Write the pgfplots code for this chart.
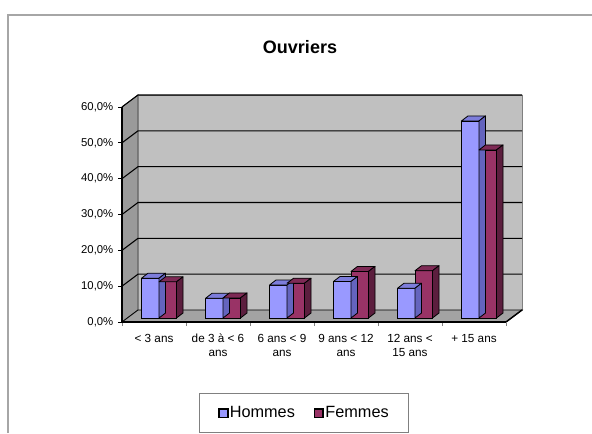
\documentclass[border=0pt]{standalone}
\usepackage{pgfplots}
\pgfplotsset{compat=1.18}
\usepackage{pgfplotstable}
\usepackage{fontspec}
\setmainfont{Liberation Sans}

\definecolor{hfront}{HTML}{9999FF}
\definecolor{htop}{HTML}{7D7DDB}
\definecolor{hside}{HTML}{6464BE}
\definecolor{ffront}{HTML}{993366}
\definecolor{ftop}{HTML}{7E2A55}
\definecolor{fside}{HTML}{5C1E3E}
\definecolor{backwall}{HTML}{C0C0C0}
\definecolor{sidewall}{HTML}{9A9A9A}
\definecolor{floorcol}{HTML}{A3A3A3}
\definecolor{framecol}{HTML}{A6A6A6}

% Share of each seniority band, in percent
\pgfplotstableread{
x hommes femmes
0 11.1 10.1
1 5.5  5.6
2 9.2  9.7
3 10.2 13.0
4 8.3  13.2
5 55.0 46.9
}\ouvriers

% Top and right faces of a 3D bar, drawn at the centre of each bar top.
% #1 = top colour, #2 = side colour
\pgfplotsset{
  bar faces/.style 2 args={
    scatter, only marks, mark=*, mark size=0pt, forget plot,
    visualization depends on={rawy \as \barval},
    scatter/@pre marker code/.code={%
      \pgfmathsetlengthmacro{\barh}{\barval*2.6875}%
      \path[fill=#1, draw=black, line width=0.6pt, line join=round]
        (-6.5625pt,0pt) -- ++(4.875pt,3.75pt) -- ++(13.125pt,0pt)
        -- (6.5625pt,0pt) -- cycle;
      \path[fill=#2, draw=black, line width=0.6pt, line join=round]
        (6.5625pt,0pt) -- ++(4.875pt,3.75pt) -- ++(0pt,-\barh)
        -- ++(-4.875pt,-3.75pt) -- cycle;
    },
    scatter/@post marker code/.code={},
  },
}

\begin{document}
\begin{tikzpicture}
\useasboundingbox (0,0) rectangle (444pt,324.75pt);

% chart frame
\draw[framecol, line width=0.8pt] (6pt,0pt) -- (6pt,313.5pt) -- (444pt,313.5pt);

% title
\node[font=\bfseries\fontsize{13.5}{16}\selectfont] at (225pt,289.5pt) {Ouvriers};

% walls, floor, gridlines and axes (front plane)
\begin{axis}[
  at={(91.5pt,83.25pt)}, anchor=south west,
  x=48pt, y=2.6875pt,
  xmin=-0.5, xmax=5.5, ymin=0, ymax=60,
  clip=false, axis on top,
  axis x line*=bottom, axis y line*=left,
  x axis line style={-, line width=1.1pt, black},
  y axis line style={-, line width=0.8pt, black},
  tick align=outside, major tick length=3pt,
  ytick={0,10,...,60},
  yticklabel={\pgfmathprintnumber[fixed,fixed zerofill,precision=1,use comma]{\tick}\%},
  ytick style={black, line width=0.6pt},
  xtick={-0.5,0.5,...,5.5}, xticklabels={},
  xtick style={gray, line width=0.6pt},
  extra x ticks={0,...,5},
  extra x tick labels={{< 3 ans},{de 3 à < 6\\ans},{6 ans < 9\\ans},{9 ans < 12\\ans},{12 ans <\\15 ans},{+ 15 ans}},
  extra x tick style={major tick length=0pt,
    xticklabel style={align=center, yshift=-5.5pt, font=\fontsize{8.8}{10.5}\selectfont}},
  tick label style={font=\fontsize{8.5}{10.5}\selectfont},
  /pgf/number format/assume math mode=true,
]
  % left wall
  \fill[sidewall, draw=black!80, line width=0.6pt]
    (axis cs:-0.5,0) -- (axis cs:-0.5,60) -- ([shift={(12pt,9pt)}]axis cs:-0.5,60)
    -- ([shift={(12pt,9pt)}]axis cs:-0.5,0) -- cycle;
  % back wall
  \fill[backwall, draw=gray, line width=0.6pt]
    ([shift={(12pt,9pt)}]axis cs:-0.5,0) rectangle ([shift={(12pt,9pt)}]axis cs:5.5,60);
  % floor
  \fill[floorcol, draw=black, line width=0.6pt]
    (axis cs:-0.5,0) -- (axis cs:5.5,0) -- ([shift={(12pt,9pt)}]axis cs:5.5,0)
    -- ([shift={(12pt,9pt)}]axis cs:-0.5,0) -- cycle;
  \draw[black, line width=1.1pt] (axis cs:5.5,0) -- ([shift={(12pt,9pt)}]axis cs:5.5,0);
  % gridlines on the left and back walls
  \pgfplotsinvokeforeach{10,20,30,40,50,60}{
    \draw[black, line width=0.8pt] (axis cs:-0.5,#1) -- ([shift={(12pt,9pt)}]axis cs:-0.5,#1)
      -- ([shift={(12pt,9pt)}]axis cs:5.5,#1);
  }
\end{axis}

% bars, standing a little behind the front plane
\begin{axis}[
  at={(95.25pt,86.25pt)}, anchor=south west,
  x=48pt, y=2.6875pt,
  xmin=-0.5, xmax=5.5, ymin=0, ymax=60,
  hide axis, clip=false,
  legend columns=2,
  legend style={at={(axis description cs:0.461,-0.442)}, anchor=center,
    draw=gray, line width=0.5pt, inner xsep=14pt, inner ysep=8.5pt,
    nodes={inner xsep=1pt, inner ysep=1pt},
    font=\fontsize{12.2}{14}\selectfont,
    /tikz/every even column/.append style={column sep=13pt}},
]
  \addplot[ybar, bar width=13.125pt, bar shift=-6.5625pt, fill=hfront, draw=black, line width=0.6pt,
    legend image code/.code={\draw[fill=hfront, draw=black, line width=1.3pt] (0pt,-3.3pt) rectangle (6.6pt,3.3pt);}]
    table[x=x, y=hommes] {\ouvriers};
  \addlegendentry{Hommes}
  \addplot[bar faces={htop}{hside}] table[x expr=\thisrow{x}-0.13672, y=hommes] {\ouvriers};

  \addplot[ybar, bar width=13.125pt, bar shift=6.5625pt, fill=ffront, draw=black, line width=0.6pt,
    legend image code/.code={\draw[fill=ffront, draw=black, line width=1.3pt] (0pt,-3.3pt) rectangle (6.6pt,3.3pt);}]
    table[x=x, y=femmes] {\ouvriers};
  \addlegendentry{Femmes}
  \addplot[bar faces={ftop}{fside}] table[x expr=\thisrow{x}+0.13672, y=femmes] {\ouvriers};
\end{axis}
\end{tikzpicture}
\end{document}
